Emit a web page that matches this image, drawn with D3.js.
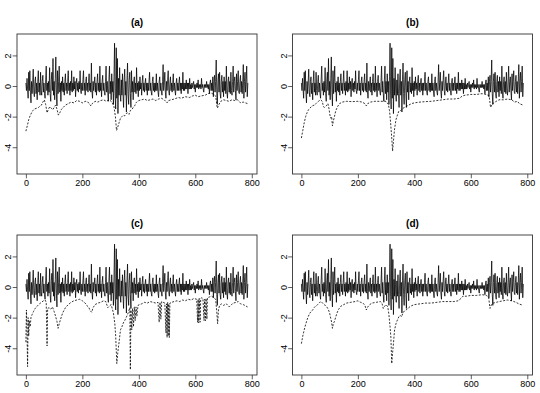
<!DOCTYPE html>
<html><head><meta charset="utf-8">
<script src="https://cdn.jsdelivr.net/npm/d3@7"></script>
<style>body{margin:0;background:#fff}svg{display:block;font-family:"Liberation Sans",Arial,Helvetica,sans-serif}</style>
</head><body><svg id="chart" width="540" height="393"></svg>
<script>
const panelTitles = ["(a)", "(b)", "(c)", "(d)"];
const xTicks = [0, 200, 400, 600, 800];
const yTicks = [-4, -2, 0, 2];
const xLim = [0, 787];
const yLim = [-5.41, 3.06];
const solidStep = 2;
// solid series (shared by all panels), one value every 2 time steps
const solid = [
 0.2,-0.3,0.5,-0.2,-0.8,0.9,-0.3,1.0,-0.4,-1.1,0.3,-0.5,0.2,1.1,-0.4,-0.7,0.3,0.6,-0.5,0.2,
 -0.9,0.3,1.0,-0.4,0.2,-0.6,0.9,-0.3,-0.6,0.3,0.7,-0.4,0.2,-0.5,-0.8,0.4,1.3,-0.3,0.2,-0.6,
 0.3,-0.4,1.2,-0.5,-1.0,0.4,0.9,-0.3,1.8,-0.6,0.3,-0.9,0.5,1.9,-0.4,-1.3,1.0,-0.5,0.3,1.3,
 -0.4,0.2,-1.0,0.3,-0.3,0.6,-0.4,0.2,-0.6,0.3,0.8,-0.3,0.2,-0.5,0.3,1.0,-0.3,0.2,-0.6,0.3,
 -0.3,1.0,-0.4,0.2,-0.3,0.6,-0.2,0.3,-0.7,0.2,0.5,-0.3,0.2,-0.4,0.3,-0.2,1.0,-0.3,-0.5,0.2,
 -0.3,0.4,1.0,-0.3,0.2,-0.6,0.3,0.6,-0.3,0.2,-0.4,0.3,0.8,-0.3,0.2,-0.4,1.5,-0.3,-0.8,0.3,
 -0.3,0.2,0.6,-0.4,0.2,-0.6,0.3,0.8,-0.3,0.2,-0.4,1.3,-0.3,0.2,-0.7,0.3,0.7,-0.3,0.2,-0.4,
 -0.6,0.3,1.3,-0.4,0.3,-0.5,-1.0,0.4,1.3,-0.5,0.3,-0.9,0.8,-0.4,0.3,-1.2,0.6,2.8,-0.6,-1.5,
 2.5,-0.8,1.8,-1.8,0.5,-0.6,1.2,-0.5,-1.0,0.4,-0.6,0.8,-0.5,-1.4,0.4,1.1,-0.6,0.3,-1.7,0.4,
 1.5,-0.5,-1.2,0.4,0.9,-0.5,-1.4,1.0,-0.4,0.3,-0.9,0.3,0.6,-0.4,0.2,-0.5,1.2,-0.3,0.2,-0.7,
 0.3,-0.3,0.6,-0.2,0.2,-0.6,0.3,0.7,-0.3,0.2,-0.4,0.2,0.5,-0.3,0.2,-0.6,0.2,-0.3,0.3,0.9,
 -0.3,0.2,-0.4,-0.6,0.3,0.6,-0.3,0.2,-0.4,0.2,-0.3,0.8,-0.3,0.2,-0.4,-0.7,0.3,0.6,-0.3,0.2,
 -0.4,-0.6,0.3,1.4,-0.3,0.2,0.9,-0.4,-0.8,0.3,-0.3,0.4,1.0,-0.3,-0.6,0.2,0.6,-0.3,0.2,-0.4,
 0.2,0.8,-0.3,0.2,-0.3,-0.6,0.2,0.5,-0.3,0.2,-0.3,0.2,0.6,-0.3,0.2,-0.5,0.2,-0.2,0.9,-0.3,
 0.2,-0.3,0.2,-0.2,0.4,-0.2,0.2,-0.5,0.2,-0.2,0.5,-0.2,0.1,-0.2,0.2,-0.1,0.1,0.3,-0.2,0.1,
 -0.4,0.1,-0.1,0.2,-0.1,0.4,-0.2,0.1,-0.1,0.1,-0.2,0.5,-0.1,0.1,-0.2,-0.4,0.1,-0.1,0.1,-0.1,
 0.3,-0.1,0.1,-0.2,0.1,-0.5,0.2,0.4,-0.3,0.2,-0.3,0.6,-0.7,0.3,0.7,-0.4,0.3,1.7,-0.5,-1.2,
 0.3,0.8,-0.4,0.9,-0.5,-0.8,0.3,0.7,-0.4,0.3,-0.7,0.6,-0.3,0.3,-0.5,1.3,-0.4,-0.8,0.3,0.6,
 -0.4,0.3,-0.5,0.9,-0.3,-0.6,0.3,1.3,-0.4,0.3,0.6,-0.3,-0.9,0.8,-0.3,0.3,1.0,-0.4,-0.5,0.3,
 0.7,-0.4,0.3,-0.5,0.3,1.4,-0.8,0.3,0.9,-0.4,0.3,1.3,-0.7,0.2
];
// dashed series: [time, value]
const dashA = [[0,-2.95],[5,-2.6],[10,-2.2],[15,-1.95],[20,-1.75],[25,-1.6],[30,-1.5],[38,-1.45],[45,-1.4],[50,-1.3],[55,-1.25],[60,-1.05],[65,-0.9],[70,-1.2],[75,-1.75],[80,-1.5],[85,-1.35],[90,-1.45],[95,-1.55],[100,-1.4],[105,-1.25],[110,-1.5],[115,-1.9],[120,-1.75],[125,-1.55],[132,-1.4],[140,-1.25],[150,-1.15],[160,-1.05],[170,-1.1],[180,-0.95],[190,-1.0],[200,-1.1],[210,-1.0],[220,-1.05],[230,-1.3],[235,-1.15],[245,-1.0],[255,-1.05],[265,-0.95],[275,-0.9],[285,-1.0],[295,-0.9],[305,-1.05],[312,-1.35],[317,-2.0],[321,-2.9],[325,-2.7],[330,-2.4],[335,-2.1],[340,-2.0],[345,-1.9],[350,-1.95],[355,-1.8],[360,-1.75],[365,-1.85],[370,-1.6],[375,-1.55],[380,-1.4],[385,-1.3],[390,-1.1],[395,-1.0],[400,-0.95],[410,-0.9],[420,-0.85],[430,-0.95],[440,-0.9],[450,-0.85],[460,-0.95],[470,-0.85],[480,-0.8],[490,-0.9],[500,-1.1],[505,-0.95],[515,-0.9],[525,-0.85],[540,-0.75],[550,-0.8],[565,-0.7],[580,-0.75],[590,-0.65],[600,-0.6],[610,-0.7],[620,-0.65],[635,-0.6],[645,-0.5],[655,-0.45],[665,-0.55],[672,-0.65],[678,-1.45],[684,-1.2],[690,-1.0],[700,-0.9],[710,-0.95],[720,-1.0],[730,-0.9],[740,-0.95],[750,-0.9],[760,-1.1],[770,-1.05],[785,-1.15]];
const dashB = [[0,-3.4],[5,-2.9],[10,-2.4],[15,-2.0],[20,-1.75],[25,-1.55],[30,-1.45],[38,-1.3],[45,-1.25],[52,-1.15],[60,-1.0],[68,-0.9],[74,-1.0],[78,-1.35],[82,-1.4],[88,-1.3],[94,-1.15],[98,-1.5],[101,-1.9],[104,-2.1],[107,-2.0],[110,-2.6],[113,-2.3],[117,-2.0],[122,-1.6],[128,-1.35],[135,-1.15],[145,-1.05],[160,-1.0],[180,-1.02],[200,-1.0],[215,-1.05],[225,-1.15],[230,-1.3],[235,-1.15],[245,-1.05],[260,-1.0],[280,-1.0],[300,-1.0],[308,-1.2],[312,-1.6],[316,-2.4],[320,-3.4],[323,-4.25],[326,-3.6],[330,-2.8],[335,-2.2],[340,-1.9],[345,-1.65],[352,-1.6],[360,-1.45],[370,-1.35],[380,-1.25],[390,-1.15],[400,-1.1],[420,-1.05],[440,-1.02],[460,-1.0],[480,-0.95],[500,-0.9],[520,-0.85],[540,-0.85],[560,-0.8],[570,-0.65],[580,-0.6],[600,-0.55],[620,-0.55],[640,-0.5],[655,-0.55],[665,-0.65],[670,-1.4],[675,-1.2],[682,-1.1],[690,-1.0],[700,-0.9],[715,-0.9],[730,-0.85],[745,-0.9],[755,-1.05],[765,-1.0],[772,-1.15],[785,-1.25]];
const dashC = [[0,-3.6],[2,-1.5],[4,-3.0],[6,-5.2],[8,-2.0],[10,-3.2],[12,-2.2],[15,-2.6],[18,-2.0],[22,-1.8],[27,-1.6],[33,-1.4],[40,-1.25],[48,-1.1],[55,-1.0],[62,-0.9],[68,-0.85],[72,-1.0],[75,-3.85],[77,-1.4],[82,-1.35],[88,-1.45],[94,-1.3],[100,-1.6],[105,-1.9],[110,-2.25],[114,-2.7],[118,-2.4],[123,-2.1],[130,-1.7],[140,-1.35],[150,-1.15],[160,-1.0],[170,-0.9],[180,-0.85],[190,-0.8],[200,-0.9],[210,-1.05],[215,-1.2],[222,-1.3],[228,-1.55],[233,-1.65],[238,-1.35],[245,-1.15],[255,-1.05],[265,-1.0],[275,-0.9],[283,-0.95],[290,-1.35],[295,-1.25],[302,-1.15],[310,-1.7],[315,-2.4],[318,-3.2],[322,-5.0],[326,-4.2],[330,-3.6],[335,-2.8],[340,-2.6],[345,-2.35],[350,-2.2],[355,-2.0],[360,-1.8],[364,-1.6],[368,-1.35],[370,-5.4],[372,-1.5],[375,-2.8],[378,-1.4],[381,-2.6],[384,-1.3],[387,-2.2],[390,-1.3],[393,-1.9],[397,-1.2],[402,-1.15],[410,-1.1],[420,-1.0],[430,-1.05],[440,-0.95],[450,-1.0],[460,-1.05],[468,-1.0],[472,-2.3],[475,-1.0],[478,-2.1],[481,-0.95],[486,-1.0],[492,-1.05],[496,-3.0],[498,-1.1],[500,-3.3],[502,-1.0],[504,-3.2],[506,-1.1],[508,-3.3],[510,-1.05],[516,-1.0],[525,-0.95],[535,-0.9],[545,-0.95],[555,-0.85],[565,-0.9],[575,-0.8],[585,-0.85],[595,-0.75],[605,-0.8],[608,-2.3],[610,-0.8],[612,-2.35],[614,-0.75],[617,-2.3],[619,-0.8],[622,-0.7],[627,-0.75],[631,-2.2],[633,-0.8],[636,-2.2],[638,-0.75],[641,-2.1],[643,-0.7],[650,-0.65],[658,-0.6],[665,-0.7],[672,-0.8],[676,-1.6],[679,-2.4],[682,-1.5],[686,-1.2],[692,-1.1],[700,-1.2],[710,-1.1],[720,-1.3],[728,-1.15],[735,-1.05],[745,-1.0],[752,-0.95],[760,-1.1],[770,-1.15],[785,-1.3]];
const dashD = [[0,-3.7],[5,-3.2],[10,-2.8],[15,-2.45],[20,-2.15],[25,-1.9],[30,-1.7],[35,-1.6],[40,-1.5],[45,-1.35],[50,-1.25],[55,-1.2],[60,-1.1],[65,-1.0],[70,-0.95],[75,-1.05],[80,-1.15],[85,-1.2],[90,-1.3],[95,-1.45],[100,-1.7],[104,-2.05],[107,-2.3],[110,-2.7],[113,-2.4],[117,-2.25],[121,-2.0],[126,-1.7],[132,-1.45],[140,-1.25],[150,-1.15],[160,-1.05],[175,-1.0],[190,-0.95],[200,-0.9],[210,-1.0],[218,-1.05],[225,-1.2],[230,-1.5],[235,-1.3],[242,-1.15],[250,-1.05],[265,-1.0],[280,-0.95],[286,-1.1],[290,-1.4],[295,-1.25],[300,-1.15],[306,-1.3],[310,-1.8],[314,-2.6],[317,-3.3],[320,-5.0],[323,-4.3],[326,-3.7],[330,-2.8],[335,-2.4],[340,-2.15],[345,-1.95],[350,-1.85],[355,-1.95],[360,-1.65],[368,-1.55],[377,-1.4],[387,-1.25],[400,-1.15],[420,-1.1],[440,-1.05],[460,-1.05],[480,-1.0],[500,-0.95],[520,-0.95],[540,-0.95],[555,-0.9],[565,-0.75],[572,-0.6],[585,-0.6],[600,-0.55],[620,-0.55],[640,-0.5],[655,-0.55],[663,-0.65],[668,-1.4],[673,-1.15],[680,-1.05],[690,-1.0],[700,-0.95],[715,-0.9],[730,-0.85],[745,-0.9],[760,-1.0],[770,-1.1],[785,-1.2]];

const dashSeries = [dashA, dashB, dashC, dashD];
const boxes = [
  {x0: 17, x1: 257, y0: 34, y1: 174},
  {x0: 292.5, x1: 532.5, y0: 34, y1: 174},
  {x0: 17, x1: 257, y0: 235, y1: 375},
  {x0: 292.5, x1: 532.5, y0: 235, y1: 375}
];

const svg = d3.select("#chart");
const ext = (lim) => { const d = (lim[1] - lim[0]) * 0.04; return [lim[0] - d, lim[1] + d]; };
const solidPts = solid.map((v, i) => [i * solidStep, v]);

boxes.forEach((b, k) => {
  const x = d3.scaleLinear().domain(ext(xLim)).range([b.x0, b.x1]);
  const y = d3.scaleLinear().domain(ext(yLim)).range([b.y1, b.y0]);
  const g = svg.append("g");
  const clipId = "clip" + k;
  g.append("clipPath").attr("id", clipId).append("rect")
    .attr("x", b.x0).attr("y", b.y0).attr("width", b.x1 - b.x0).attr("height", b.y1 - b.y0);
  const line = d3.line().x(d => x(d[0])).y(d => y(d[1]));
  const plot = g.append("g").attr("clip-path", `url(#${clipId})`);
  plot.append("path").attr("d", line(solidPts))
    .attr("fill", "none").attr("stroke", "#000").attr("stroke-width", 0.75);
  plot.append("path").attr("d", line(dashSeries[k]))
    .attr("fill", "none").attr("stroke", "#000").attr("stroke-width", 0.8)
    .attr("stroke-dasharray", "2,1.5");
  g.append("rect").attr("x", b.x0).attr("y", b.y0)
    .attr("width", b.x1 - b.x0).attr("height", b.y1 - b.y0)
    .attr("fill", "none").attr("stroke", "#333").attr("stroke-width", 0.9);

  const xa = g.append("g").attr("transform", `translate(0,${b.y1})`)
    .call(d3.axisBottom(x).tickValues(xTicks).tickSize(4.3).tickFormat(d3.format("d")));
  xa.select(".domain").remove();
  xa.selectAll("line").attr("stroke", "#333").attr("stroke-width", 0.8);
  xa.selectAll("text").attr("y", 11.7).attr("dy", 0)
    .attr("font-size", 9).attr("fill", "#000").attr("font-family", '"Liberation Sans",Arial,sans-serif');

  const ya = g.append("g").attr("transform", `translate(${b.x0},0)`)
    .call(d3.axisLeft(y).tickValues(yTicks).tickSize(4.3).tickFormat(d => String(d).replace("\u2212", "-")));
  ya.select(".domain").remove();
  ya.selectAll("line").attr("stroke", "#333").attr("stroke-width", 0.8);
  ya.selectAll("text").attr("x", 0).attr("y", -5.6).attr("dy", 0)
    .attr("transform", "rotate(-90)").attr("text-anchor", "middle")
    .attr("font-size", 9).attr("fill", "#000").attr("font-family", '"Liberation Sans",Arial,sans-serif');

  g.append("text").attr("x", (b.x0 + b.x1) / 2).attr("y", b.y0 - 8.5)
    .attr("text-anchor", "middle").attr("font-size", 10).attr("font-weight", "bold")
    .text(panelTitles[k]);
});
</script>
</body></html>
